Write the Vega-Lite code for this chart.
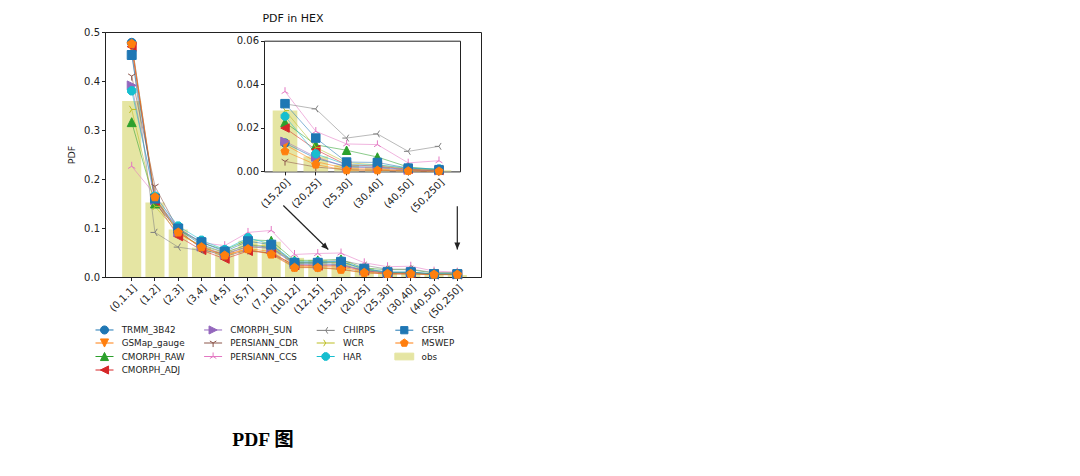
{
  "$schema": "https://vega.github.io/schema/vega-lite/v6.json",
  "width": 376,
  "height": 245,
  "autosize": "none",
  "padding": {"left": 105, "top": 32, "right": 599, "bottom": 199},
  "background": "white",
  "config": {
    "font": "DejaVu Sans",
    "view": {"stroke": "#222", "strokeWidth": 1},
    "axis": {"labelFont": "DejaVu Sans", "labelFontSize": 10, "labelColor": "#222", "titleFont": "DejaVu Sans", "titleFontSize": 9.5, "titleFontWeight": "normal", "titleColor": "#222", "domainColor": "#222", "tickColor": "#222", "tickSize": 3.5, "grid": false, "labelPadding": 2}
  },
  "title": {"text": "PDF in HEX", "fontSize": 11, "fontWeight": "normal", "font": "DejaVu Sans", "color": "#111", "anchor": "middle", "frame": "group", "offset": 3},
  "datasets": {
    "main": [
      {"cat": "(0,1.1]", "TRMM_3B42": 0.478, "GSMap_gauge": 0.470, "CMORPH_RAW": 0.316, "CMORPH_ADJ": 0.470, "CMORPH_SUN": 0.391, "PERSIANN_CDR": 0.410, "PERSIANN_CCS": 0.226, "CHIRPS": 0.462, "WCR": 0.342, "HAR": 0.380, "CFSR": 0.453, "MSWEP": 0.476, "obs": 0.359},
      {"cat": "(1,2]", "TRMM_3B42": 0.158, "GSMap_gauge": 0.160, "CMORPH_RAW": 0.150, "CMORPH_ADJ": 0.155, "CMORPH_SUN": 0.157, "PERSIANN_CDR": 0.185, "PERSIANN_CCS": 0.168, "CHIRPS": 0.091, "WCR": 0.144, "HAR": 0.165, "CFSR": 0.160, "MSWEP": 0.163, "obs": 0.152},
      {"cat": "(2,3]", "TRMM_3B42": 0.097, "GSMap_gauge": 0.090, "CMORPH_RAW": 0.097, "CMORPH_ADJ": 0.083, "CMORPH_SUN": 0.092, "PERSIANN_CDR": 0.096, "PERSIANN_CCS": 0.100, "CHIRPS": 0.061, "WCR": 0.090, "HAR": 0.104, "CFSR": 0.099, "MSWEP": 0.091, "obs": 0.097},
      {"cat": "(3,4]", "TRMM_3B42": 0.066, "GSMap_gauge": 0.061, "CMORPH_RAW": 0.070, "CMORPH_ADJ": 0.055, "CMORPH_SUN": 0.062, "PERSIANN_CDR": 0.058, "PERSIANN_CCS": 0.070, "CHIRPS": 0.054, "WCR": 0.063, "HAR": 0.075, "CFSR": 0.071, "MSWEP": 0.061, "obs": 0.060},
      {"cat": "(4,5]", "TRMM_3B42": 0.050, "GSMap_gauge": 0.045, "CMORPH_RAW": 0.055, "CMORPH_ADJ": 0.037, "CMORPH_SUN": 0.046, "PERSIANN_CDR": 0.042, "PERSIANN_CCS": 0.064, "CHIRPS": 0.048, "WCR": 0.050, "HAR": 0.056, "CFSR": 0.052, "MSWEP": 0.044, "obs": 0.053},
      {"cat": "(5,7]", "TRMM_3B42": 0.066, "GSMap_gauge": 0.058, "CMORPH_RAW": 0.076, "CMORPH_ADJ": 0.053, "CMORPH_SUN": 0.062, "PERSIANN_CDR": 0.055, "PERSIANN_CCS": 0.091, "CHIRPS": 0.062, "WCR": 0.066, "HAR": 0.080, "CFSR": 0.073, "MSWEP": 0.057, "obs": 0.074},
      {"cat": "(7,10]", "TRMM_3B42": 0.060, "GSMap_gauge": 0.052, "CMORPH_RAW": 0.074, "CMORPH_ADJ": 0.049, "CMORPH_SUN": 0.058, "PERSIANN_CDR": 0.048, "PERSIANN_CCS": 0.095, "CHIRPS": 0.060, "WCR": 0.063, "HAR": 0.067, "CFSR": 0.066, "MSWEP": 0.046, "obs": 0.072},
      {"cat": "(10,12]", "TRMM_3B42": 0.027, "GSMap_gauge": 0.022, "CMORPH_RAW": 0.034, "CMORPH_ADJ": 0.024, "CMORPH_SUN": 0.026, "PERSIANN_CDR": 0.020, "PERSIANN_CCS": 0.046, "CHIRPS": 0.030, "WCR": 0.029, "HAR": 0.031, "CFSR": 0.029, "MSWEP": 0.019, "obs": 0.039},
      {"cat": "(12,15]", "TRMM_3B42": 0.027, "GSMap_gauge": 0.021, "CMORPH_RAW": 0.034, "CMORPH_ADJ": 0.023, "CMORPH_SUN": 0.025, "PERSIANN_CDR": 0.019, "PERSIANN_CCS": 0.048, "CHIRPS": 0.031, "WCR": 0.029, "HAR": 0.031, "CFSR": 0.029, "MSWEP": 0.019, "obs": 0.035},
      {"cat": "(15,20]", "TRMM_3B42": 0.026, "GSMap_gauge": 0.020, "CMORPH_RAW": 0.036, "CMORPH_ADJ": 0.023, "CMORPH_SUN": 0.025, "PERSIANN_CDR": 0.016, "PERSIANN_CCS": 0.049, "CHIRPS": 0.034, "WCR": 0.030, "HAR": 0.032, "CFSR": 0.031, "MSWEP": 0.015, "obs": 0.031},
      {"cat": "(20,25]", "TRMM_3B42": 0.014, "GSMap_gauge": 0.011, "CMORPH_RAW": 0.018, "CMORPH_ADJ": 0.013, "CMORPH_SUN": 0.013, "PERSIANN_CDR": 0.009, "PERSIANN_CCS": 0.029, "CHIRPS": 0.024, "WCR": 0.015, "HAR": 0.016, "CFSR": 0.017, "MSWEP": 0.0086, "obs": 0.018},
      {"cat": "(25,30]", "TRMM_3B42": 0.009, "GSMap_gauge": 0.007, "CMORPH_RAW": 0.015, "CMORPH_ADJ": 0.008, "CMORPH_SUN": 0.008, "PERSIANN_CDR": 0.006, "PERSIANN_CCS": 0.021, "CHIRPS": 0.016, "WCR": 0.009, "HAR": 0.010, "CFSR": 0.010, "MSWEP": 0.0065, "obs": 0.010},
      {"cat": "(30,40]", "TRMM_3B42": 0.009, "GSMap_gauge": 0.007, "CMORPH_RAW": 0.015, "CMORPH_ADJ": 0.008, "CMORPH_SUN": 0.008, "PERSIANN_CDR": 0.006, "PERSIANN_CCS": 0.022, "CHIRPS": 0.016, "WCR": 0.009, "HAR": 0.010, "CFSR": 0.010, "MSWEP": 0.0065, "obs": 0.009},
      {"cat": "(40,50]", "TRMM_3B42": 0.006, "GSMap_gauge": 0.005, "CMORPH_RAW": 0.008, "CMORPH_ADJ": 0.005, "CMORPH_SUN": 0.006, "PERSIANN_CDR": 0.005, "PERSIANN_CCS": 0.012, "CHIRPS": 0.009, "WCR": 0.006, "HAR": 0.006, "CFSR": 0.006, "MSWEP": 0.005, "obs": 0.004},
      {"cat": "(50,250]", "TRMM_3B42": 0.006, "GSMap_gauge": 0.005, "CMORPH_RAW": 0.008, "CMORPH_ADJ": 0.005, "CMORPH_SUN": 0.005, "PERSIANN_CDR": 0.005, "PERSIANN_CCS": 0.010, "CHIRPS": 0.009, "WCR": 0.006, "HAR": 0.006, "CFSR": 0.006, "MSWEP": 0.005, "obs": 0.004}
    ],
    "inset": [
      {"cat": "(15,20]", "TRMM_3B42": 0.0130, "GSMap_gauge": 0.0123, "CMORPH_RAW": 0.0225, "CMORPH_ADJ": 0.0199, "CMORPH_SUN": 0.0138, "PERSIANN_CDR": 0.0046, "PERSIANN_CCS": 0.0367, "CHIRPS": 0.0310, "WCR": 0.0280, "HAR": 0.0253, "CFSR": 0.0311, "MSWEP": 0.0092, "obs": 0.0279},
      {"cat": "(20,25]", "TRMM_3B42": 0.0060, "GSMap_gauge": 0.0045, "CMORPH_RAW": 0.0122, "CMORPH_ADJ": 0.0100, "CMORPH_SUN": 0.0066, "PERSIANN_CDR": 0.0020, "PERSIANN_CCS": 0.0184, "CHIRPS": 0.0287, "WCR": 0.0110, "HAR": 0.0081, "CFSR": 0.0153, "MSWEP": 0.0031, "obs": 0.0069},
      {"cat": "(25,30]", "TRMM_3B42": 0.0022, "GSMap_gauge": 0.0013, "CMORPH_RAW": 0.0097, "CMORPH_ADJ": 0.0030, "CMORPH_SUN": 0.0020, "PERSIANN_CDR": 0.0008, "PERSIANN_CCS": 0.0126, "CHIRPS": 0.0153, "WCR": 0.0040, "HAR": 0.0030, "CFSR": 0.0043, "MSWEP": 0.0005, "obs": 0.0030},
      {"cat": "(30,40]", "TRMM_3B42": 0.0020, "GSMap_gauge": 0.0010, "CMORPH_RAW": 0.0066, "CMORPH_ADJ": 0.0025, "CMORPH_SUN": 0.0016, "PERSIANN_CDR": 0.0005, "PERSIANN_CCS": 0.0123, "CHIRPS": 0.0172, "WCR": 0.0030, "HAR": 0.0030, "CFSR": 0.0041, "MSWEP": 0.0005, "obs": 0.0020},
      {"cat": "(40,50]", "TRMM_3B42": 0.0008, "GSMap_gauge": 0.0005, "CMORPH_RAW": 0.0020, "CMORPH_ADJ": 0.0010, "CMORPH_SUN": 0.0006, "PERSIANN_CDR": 0.0002, "PERSIANN_CCS": 0.0039, "CHIRPS": 0.0092, "WCR": 0.0012, "HAR": 0.0015, "CFSR": 0.0015, "MSWEP": 0.0002, "obs": 0.0010},
      {"cat": "(50,250]", "TRMM_3B42": 0.0004, "GSMap_gauge": 0.0002, "CMORPH_RAW": 0.0008, "CMORPH_ADJ": 0.0004, "CMORPH_SUN": 0.0003, "PERSIANN_CDR": 0.0001, "PERSIANN_CCS": 0.0049, "CHIRPS": 0.0115, "WCR": 0.0006, "HAR": 0.0012, "CFSR": 0.0008, "MSWEP": 0.0001, "obs": 0.0005}
    ],
    "legend": [
      {"series": "TRMM_3B42"}, {"series": "CMORPH_SUN"}, {"series": "CHIRPS"}, {"series": "CFSR"},
      {"series": "GSMap_gauge"}, {"series": "PERSIANN_CDR"}, {"series": "WCR"}, {"series": "MSWEP"},
      {"series": "CMORPH_RAW"}, {"series": "PERSIANN_CCS"}, {"series": "HAR"}, {"series": "obs"},
      {"series": "CMORPH_ADJ"}
    ],
    "anno": [{}]
  },
  "layer": [
    {
      "data": {"name": "main"},
      "transform": [{"fold": ["TRMM_3B42", "GSMap_gauge", "CMORPH_RAW", "CMORPH_ADJ", "CMORPH_SUN", "PERSIANN_CDR", "PERSIANN_CCS", "CHIRPS", "WCR", "HAR", "CFSR", "MSWEP", "obs"], "as": ["series", "v"]}],
      "encoding": {
        "x": {"field": "cat", "type": "nominal", "sort": ["(0,1.1]", "(1,2]", "(2,3]", "(3,4]", "(4,5]", "(5,7]", "(7,10]", "(10,12]", "(12,15]", "(15,20]", "(20,25]", "(25,30]", "(30,40]", "(40,50]", "(50,250]"], "scale": {"paddingInner": 0.18, "paddingOuter": 0.6735, "align": 0.548}, "axis": {"orient": "bottom", "title": null, "labelAngle": -45}},
        "y": {"field": "v", "type": "quantitative", "scale": {"domain": [0, 0.5], "nice": false}, "axis": {"orient": "left", "title": "PDF", "values": [0, 0.1, 0.2, 0.3, 0.4, 0.5], "format": ".1f", "titlePadding": 7}}
      },
      "layer": [
        {"transform": [{"filter": "datum.series === 'obs'"}], "mark": {"type": "bar", "color": "#e5e5a3"}},
        {"transform": [{"filter": "datum.series !== 'obs'"}], "mark": {"type": "line", "strokeWidth": 1, "opacity": 0.55},
         "encoding": {"stroke": {"field": "series", "type": "nominal", "legend": null, "scale": {"domain": ["TRMM_3B42", "GSMap_gauge", "CMORPH_RAW", "CMORPH_ADJ", "CMORPH_SUN", "PERSIANN_CDR", "PERSIANN_CCS", "CHIRPS", "WCR", "HAR", "CFSR", "MSWEP"], "range": ["#1f77b4", "#ff7f0e", "#2ca02c", "#d62728", "#9467bd", "#8c564b", "#e377c2", "#7f7f7f", "#bcbd22", "#17becf", "#1f77b4", "#ff7f0e"]}}}},
        {"transform": [{"filter": "datum.series !== 'obs'"}], "mark": {"type": "point", "filled": true, "size": 80, "opacity": 1, "strokeWidth": 1},
         "encoding": {
           "fill": {"field": "series", "type": "nominal", "legend": null, "scale": {"domain": ["TRMM_3B42", "GSMap_gauge", "CMORPH_RAW", "CMORPH_ADJ", "CMORPH_SUN", "PERSIANN_CDR", "PERSIANN_CCS", "CHIRPS", "WCR", "HAR", "CFSR", "MSWEP"], "range": ["#1f77b4", "#ff7f0e", "#2ca02c", "#d62728", "#9467bd", "#8c564b", "#e377c2", "#7f7f7f", "#bcbd22", "#17becf", "#1f77b4", "#ff7f0e"]}},
           "stroke": {"field": "series", "type": "nominal", "legend": null},
           "shape": {"field": "series", "type": "nominal", "legend": null, "scale": {"domain": ["TRMM_3B42", "GSMap_gauge", "CMORPH_RAW", "CMORPH_ADJ", "CMORPH_SUN", "PERSIANN_CDR", "PERSIANN_CCS", "CHIRPS", "WCR", "HAR", "CFSR", "MSWEP"], "range": ["circle", "M0,1L-1,-1L1,-1Z", "M0,-1L-1,1L1,1Z", "M-1,0L1,-1L1,1Z", "M1,0L-1,-1L-1,1Z", "M0,0L0,1M0,0L-0.8,-0.5M0,0L0.8,-0.5", "M0,0L0,-1M0,0L-0.8,0.5M0,0L0.8,0.5", "M0,0L-1,0M0,0L0.5,-0.8M0,0L0.5,0.8", "M0,0L1,0M0,0L-0.5,-0.8M0,0L-0.5,0.8", "M0.924,0.383L0.383,0.924L-0.383,0.924L-0.924,0.383L-0.924,-0.383L-0.383,-0.924L0.383,-0.924L0.924,-0.383Z", "square", "M0,-1L0.951,-0.309L0.588,0.809L-0.588,0.809L-0.951,-0.309Z"]}}
         }}
      ]
    },
    {
      "data": {"name": "anno"},
      "layer": [
        {"mark": {"type": "rule", "stroke": "#222", "strokeWidth": 1.2},
         "encoding": {
           "x": {"datum": 6.519, "type": "quantitative", "scale": {"domain": [-1.148, 15.019], "nice": false, "zero": false}, "axis": null},
           "x2": {"datum": 8.453},
           "y": {"datum": 0.146, "type": "quantitative", "scale": {"domain": [0, 0.5], "nice": false}, "axis": null},
           "y2": {"datum": 0.0561}
         }},
        {"mark": {"type": "rule", "stroke": "#222", "strokeWidth": 1.2},
         "encoding": {
           "x": {"datum": 14, "type": "quantitative", "axis": null},
           "y": {"datum": 0.1445, "type": "quantitative", "axis": null},
           "y2": {"datum": 0.0561}
         }},
        {"mark": {"type": "point", "shape": "M0,0L-0.5,-1.2L0.5,-1.2Z", "filled": true, "color": "#222", "size": 140, "angle": -45.6, "opacity": 1},
         "encoding": {"x": {"datum": 8.453, "type": "quantitative", "axis": null}, "y": {"datum": 0.0561, "type": "quantitative", "axis": null}}},
        {"mark": {"type": "point", "shape": "M0,0L-0.5,-1.2L0.5,-1.2Z", "filled": true, "color": "#222", "size": 140, "angle": 0, "opacity": 1},
         "encoding": {"x": {"datum": 14, "type": "quantitative", "axis": null}, "y": {"datum": 0.0561, "type": "quantitative", "axis": null}}},
        {"mark": {"type": "text", "text": "PDF 图", "font": "Liberation Serif, 'Noto Sans CJK SC'", "fontSize": 19.5, "fontWeight": "bold", "color": "#000", "align": "center", "baseline": "middle"},
         "encoding": {"x": {"datum": 5.646, "type": "quantitative", "axis": null}, "y": {"datum": -0.3327, "type": "quantitative", "axis": null}}}
      ]
    },
    {
      "data": {"name": "inset"},
      "transform": [{"fold": ["TRMM_3B42", "GSMap_gauge", "CMORPH_RAW", "CMORPH_ADJ", "CMORPH_SUN", "PERSIANN_CDR", "PERSIANN_CCS", "CHIRPS", "WCR", "HAR", "CFSR", "MSWEP", "obs"], "as": ["series", "v"]}],
      "layer": [
        {
          "encoding": {
            "x": {"field": "cat", "type": "nominal", "sort": ["(15,20]", "(20,25]", "(25,30]", "(30,40]", "(40,50]", "(50,250]"], "scale": {"range": [159, 355], "paddingInner": 0.2, "paddingOuter": 0.282}, "axis": {"orient": "bottom", "offset": -105.6, "labelAngle": -45, "title": null}},
            "y": {"field": "v", "type": "quantitative", "scale": {"domain": [0, 0.06], "nice": false, "range": [139.4, 8.7]}, "axis": {"orient": "left", "offset": -159, "values": [0, 0.02, 0.04, 0.06], "format": ".2f", "title": null}}
          },
          "layer": [
            {"transform": [{"filter": "datum.series === 'obs'"}], "mark": {"type": "bar", "color": "#e5e5a3"}},
            {"transform": [{"filter": "datum.series !== 'obs'"}], "mark": {"type": "line", "strokeWidth": 1, "opacity": 0.55},
             "encoding": {"stroke": {"field": "series", "type": "nominal", "legend": null, "scale": {"domain": ["TRMM_3B42", "GSMap_gauge", "CMORPH_RAW", "CMORPH_ADJ", "CMORPH_SUN", "PERSIANN_CDR", "PERSIANN_CCS", "CHIRPS", "WCR", "HAR", "CFSR", "MSWEP"], "range": ["#1f77b4", "#ff7f0e", "#2ca02c", "#d62728", "#9467bd", "#8c564b", "#e377c2", "#7f7f7f", "#bcbd22", "#17becf", "#1f77b4", "#ff7f0e"]}}}},
            {"transform": [{"filter": "datum.series !== 'obs'"}], "mark": {"type": "point", "filled": true, "size": 72, "opacity": 1, "strokeWidth": 1},
             "encoding": {
               "fill": {"field": "series", "type": "nominal", "legend": null, "scale": {"domain": ["TRMM_3B42", "GSMap_gauge", "CMORPH_RAW", "CMORPH_ADJ", "CMORPH_SUN", "PERSIANN_CDR", "PERSIANN_CCS", "CHIRPS", "WCR", "HAR", "CFSR", "MSWEP"], "range": ["#1f77b4", "#ff7f0e", "#2ca02c", "#d62728", "#9467bd", "#8c564b", "#e377c2", "#7f7f7f", "#bcbd22", "#17becf", "#1f77b4", "#ff7f0e"]}},
               "stroke": {"field": "series", "type": "nominal", "legend": null},
               "shape": {"field": "series", "type": "nominal", "legend": null, "scale": {"domain": ["TRMM_3B42", "GSMap_gauge", "CMORPH_RAW", "CMORPH_ADJ", "CMORPH_SUN", "PERSIANN_CDR", "PERSIANN_CCS", "CHIRPS", "WCR", "HAR", "CFSR", "MSWEP"], "range": ["circle", "M0,1L-1,-1L1,-1Z", "M0,-1L-1,1L1,1Z", "M-1,0L1,-1L1,1Z", "M1,0L-1,-1L-1,1Z", "M0,0L0,1M0,0L-0.8,-0.5M0,0L0.8,-0.5", "M0,0L0,-1M0,0L-0.8,0.5M0,0L0.8,0.5", "M0,0L-1,0M0,0L0.5,-0.8M0,0L0.5,0.8", "M0,0L1,0M0,0L-0.5,-0.8M0,0L-0.5,0.8", "M0.924,0.383L0.383,0.924L-0.383,0.924L-0.924,0.383L-0.924,-0.383L-0.383,-0.924L0.383,-0.924L0.924,-0.383Z", "square", "M0,-1L0.951,-0.309L0.588,0.809L-0.588,0.809L-0.951,-0.309Z"]}}
             }}
          ]
        },
        {
          "mark": {"type": "point", "opacity": 0},
          "encoding": {
            "x": {"field": "cat", "type": "nominal", "sort": ["(15,20]", "(20,25]", "(25,30]", "(30,40]", "(40,50]", "(50,250]"], "axis": {"orient": "top", "offset": -8.7, "labels": false, "ticks": false, "title": null, "domain": true}},
            "y": {"field": "v", "type": "quantitative", "axis": {"orient": "right", "offset": -21, "labels": false, "ticks": false, "title": null, "domain": true}}
          }
        }
      ],
      "resolve": {"axis": {"x": "independent", "y": "independent"}}
    },
    {
      "data": {"name": "legend"},
      "mark": {"type": "point", "filled": true, "opacity": 0},
      "encoding": {
        "fill": {"field": "series", "type": "nominal",
          "scale": {"domain": ["TRMM_3B42", "CMORPH_SUN", "CHIRPS", "CFSR", "GSMap_gauge", "PERSIANN_CDR", "WCR", "MSWEP", "CMORPH_RAW", "PERSIANN_CCS", "HAR", "obs", "CMORPH_ADJ"],
                    "range": ["#1f77b4", "#9467bd", "#7f7f7f", "#1f77b4", "#ff7f0e", "#8c564b", "#bcbd22", "#ff7f0e", "#2ca02c", "#e377c2", "#17becf", "#e5e5a3", "#d62728"]},
          "legend": {"orient": "none", "direction": "horizontal", "legendX": -5.5, "legendY": 292.5, "columns": 4, "gridAlign": "each", "title": null, "labelFont": "DejaVu Sans", "labelFontSize": 8.8, "labelColor": "#222", "labelOffset": 12.2, "columnPadding": 16.6, "rowPadding": -0.5, "symbolSize": 81, "symbolStrokeWidth": 1, "symbolOpacity": 1, "padding": 0}},
        "stroke": {"field": "series", "type": "nominal",
          "scale": {"domain": ["TRMM_3B42", "CMORPH_SUN", "CHIRPS", "CFSR", "GSMap_gauge", "PERSIANN_CDR", "WCR", "MSWEP", "CMORPH_RAW", "PERSIANN_CCS", "HAR", "obs", "CMORPH_ADJ"],
                    "range": ["#1f77b4", "#9467bd", "#7f7f7f", "#1f77b4", "#ff7f0e", "#8c564b", "#bcbd22", "#ff7f0e", "#2ca02c", "#e377c2", "#17becf", "#e5e5a3", "#d62728"]},
          "legend": {"orient": "none", "direction": "horizontal", "legendX": -5.5, "legendY": 292.5, "columns": 4, "gridAlign": "each", "title": null, "labelFont": "DejaVu Sans", "labelFontSize": 8.8, "labelColor": "#222", "labelOffset": 12.2, "columnPadding": 16.6, "rowPadding": -0.5, "symbolSize": 81, "symbolStrokeWidth": 1, "symbolOpacity": 1, "padding": 0}},
        "shape": {"field": "series", "type": "nominal",
          "scale": {"domain": ["TRMM_3B42", "CMORPH_SUN", "CHIRPS", "CFSR", "GSMap_gauge", "PERSIANN_CDR", "WCR", "MSWEP", "CMORPH_RAW", "PERSIANN_CCS", "HAR", "obs", "CMORPH_ADJ"],
                    "range": ["M-2,0H2M0.9,0A0.9,0.9,0,1,1,-0.9,0A0.9,0.9,0,1,1,0.9,0Z", "M-2,0H2M0.9,0L-0.9,-0.9L-0.9,0.9Z", "M-2,0H2M0,0L0.45,-0.72M0,0L0.45,0.72", "M-2,0H2M-0.8,-0.8H0.8V0.8H-0.8Z", "M-2,0H2M0,0.9L-0.9,-0.9L0.9,-0.9Z", "M-2,0H2M0,0L0,0.9M0,0L-0.72,-0.45M0,0L0.72,-0.45", "M-2,0H2M0,0L-0.45,-0.72M0,0L-0.45,0.72", "M-2,0H2M0,-0.9L0.856,-0.278L0.529,0.728L-0.529,0.728L-0.856,-0.278Z", "M-2,0H2M0,-0.9L-0.9,0.9L0.9,0.9Z", "M-2,0H2M0,0L0,-0.9M0,0L-0.72,0.45M0,0L0.72,0.45", "M-2,0H2M0.832,0.345L0.345,0.832L-0.345,0.832L-0.832,0.345L-0.832,-0.345L-0.345,-0.832L0.345,-0.832L0.832,-0.345Z", "M-2.1,-0.75H2.1V0.75H-2.1Z", "M-2,0H2M-0.9,0L0.9,-0.9L0.9,0.9Z"]},
          "legend": {"orient": "none", "direction": "horizontal", "legendX": -5.5, "legendY": 292.5, "columns": 4, "gridAlign": "each", "title": null, "labelFont": "DejaVu Sans", "labelFontSize": 8.8, "labelColor": "#222", "labelOffset": 12.2, "columnPadding": 16.6, "rowPadding": -0.5, "symbolSize": 81, "symbolStrokeWidth": 1, "symbolOpacity": 1, "padding": 0}}
      }
    }
  ],
  "resolve": {"scale": {"x": "independent", "y": "independent", "fill": "independent", "stroke": "independent", "shape": "independent"}}
}
